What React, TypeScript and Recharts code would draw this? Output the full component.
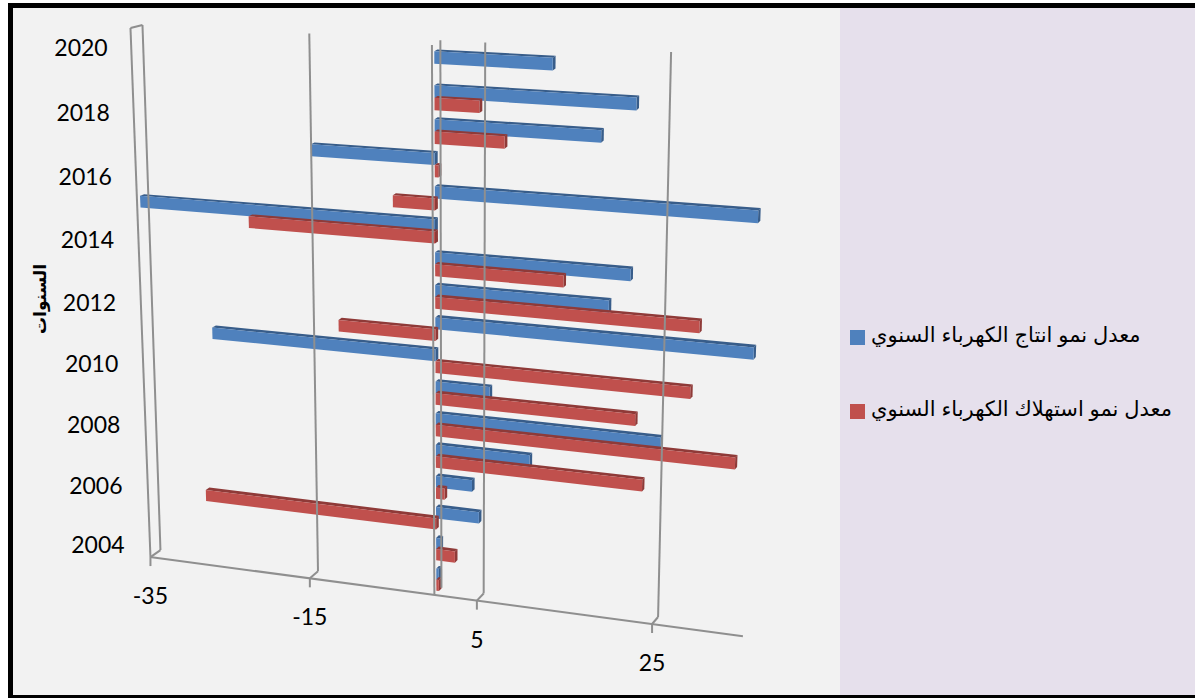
import React from 'react';
import { BarChart, Bar, XAxis, YAxis, Legend, ReferenceLine } from 'recharts';

const W = 1195;
const H = 698;

const years = [2004, 2005, 2006, 2007, 2008, 2009, 2010, 2011, 2012, 2013, 2014, 2015, 2016, 2017, 2018, 2019, 2020];
const productionGrowth = [0.3, 0.5, 5, 4.2, 10.8, 25.3, 6.2, -26.6, 35, 19.4, 21.7, -35, 35, -14.2, 18.3, 22, 13];
const consumptionGrowth = [0.3, 2.2, -28, 1, 23.4, 33.4, 22.5, 28.4, -11.3, 29.2, 14.4, -21.8, -4.8, 0.4, 7.8, 5, null];
const valueTicks = [-35, -15, 5, 25];

const PRODUCTION_NAME = 'معدل نمو انتاج الكهرباء السنوي';
const CONSUMPTION_NAME = 'معدل نمو استهلاك الكهرباء السنوي';
const AXIS_TITLE = 'السنوات';

const BLUE = { face: '#4f81bd', dark: '#385d8a' };
const RED = { face: '#c0504d', dark: '#8f3a38' };
const GRID = '#8f8f8f';

type Pt = [number, number];

// unit square -> quad (Heckbert)
function makeHomography(p0: Pt, p1: Pt, p2: Pt, p3: Pt) {
  const dx1 = p1[0] - p2[0], dx2 = p3[0] - p2[0], sx = p0[0] - p1[0] + p2[0] - p3[0];
  const dy1 = p1[1] - p2[1], dy2 = p3[1] - p2[1], sy = p0[1] - p1[1] + p2[1] - p3[1];
  const den = dx1 * dy2 - dx2 * dy1;
  const g = (sx * dy2 - dx2 * sy) / den;
  const h = (dx1 * sy - sx * dy1) / den;
  const a = p1[0] - p0[0] + g * p1[0], b = p3[0] - p0[0] + h * p3[0], c = p0[0];
  const d = p1[1] - p0[1] + g * p1[1], e = p3[1] - p0[1] + h * p3[1], f = p0[1];
  return (u: number, v: number): Pt => {
    const w = g * u + h * v + 1;
    return [(a * u + b * v + c) / w, (d * u + e * v + f) / w];
  };
}

// corners are at -35 and 25 on the value axis
const backPlane = makeHomography([142, 25], [671, 52], [658, 617], [160, 550]);
const frontPlane = makeHomography([130, 28], [664, 58], [652, 624], [150, 557]);

// chart pixel -> picture pixel; depth 0 is the back wall, 1 the front edge
function warp(x: number, y: number, depth: number): Pt {
  const u = (x / W) * (70 / 60);
  const v = y / H;
  const b = backPlane(u, v);
  const f = frontPlane(u, v);
  return [b[0] + (f[0] - b[0]) * depth, b[1] + (f[1] - b[1]) * depth];
}

const poly = (pts: Pt[]) => pts.map((p) => `${p[0].toFixed(1)},${p[1].toFixed(1)}`).join(' ');
const seg = (a: Pt, b: Pt) => ({ x1: a[0], y1: a[1], x2: b[0], y2: b[1] });

const BAR_FRONT = 0.72;
const BAR_BACK = 0.35;
const BAR_DROP = 3;

const makeBox = (col: { face: string; dark: string }) => (props: any) => {
  const { x, y, width, height } = props;
  if (width == null || height == null) return null;
  const x0 = Math.min(x, x + width);
  const x1 = Math.max(x, x + width);
  const y0 = y + BAR_DROP;
  const y1 = y + height + BAR_DROP;
  const topFace = [warp(x0, y0, BAR_FRONT), warp(x1, y0, BAR_FRONT), warp(x1, y0, BAR_BACK), warp(x0, y0, BAR_BACK)];
  const endFace = [warp(x1, y0, BAR_FRONT), warp(x1, y1, BAR_FRONT), warp(x1, y1, BAR_BACK), warp(x1, y0, BAR_BACK)];
  const face = [warp(x0, y0, BAR_FRONT), warp(x1, y0, BAR_FRONT), warp(x1, y1, BAR_FRONT), warp(x0, y1, BAR_FRONT)];
  return (
    <g>
      <polygon points={poly(topFace)} fill={col.dark} />
      <polygon points={poly(endFace)} fill={col.dark} />
      <polygon points={poly(face)} fill={col.face} />
    </g>
  );
};

const lineStyle = { stroke: GRID, strokeWidth: 2, fill: 'none' };

function ValueTick(props: any) {
  const { x, payload } = props;
  const corner = warp(x, H, 1);
  const isWall = payload.value === -35;
  return (
    <g>
      <line {...seg(warp(x, 0, 0), warp(x, H, 0))} {...lineStyle} />
      <line {...seg(warp(x, H, 0), corner)} {...lineStyle} />
      <line x1={corner[0]} y1={corner[1]} x2={corner[0]} y2={corner[1] + 9} {...lineStyle} />
      {isWall && (
        <g>
          <line {...seg(warp(x, 0, 0), warp(x, 0, 1))} {...lineStyle} />
          <line {...seg(warp(x, 0, 1), corner)} {...lineStyle} />
        </g>
      )}
      <text x={corner[0]} y={corner[1] + 38} textAnchor="middle" dominantBaseline="central" fontSize={23} fontFamily="Lato" fill="#000">
        {payload.value}
      </text>
    </g>
  );
}

function YearTick(props: any) {
  const { y, payload } = props;
  const t = (y - H / 34) / (H - H / 17);
  // labels bow slightly with the perspective
  return (
    <text x={81 + 17 * t} y={47 + 498 * t + 24 * t * (1 - t)} textAnchor="middle" dominantBaseline="central" fontSize={23} fontFamily="Lato" fill="#000">
      {payload.value}
    </text>
  );
}

// category axis sits at zero, plus the floor edge
function ZeroAxis(props: any) {
  const x = props.x1 ?? props.x;
  return (
    <g>
      <line {...seg(warp(x, 0, 0), warp(x, H, 0))} {...lineStyle} />
      <line {...seg(warp(x, 0, 1), warp(x, H, 1))} {...lineStyle} />
      <line {...seg(warp(0, H, 1), warp(W, H, 1))} {...lineStyle} />
    </g>
  );
}

function AxisTitle() {
  return (
    <text x={40} y={299} transform="rotate(-90 40 299)" textAnchor="middle" dominantBaseline="central" fontSize={17} fontWeight="bold" fontFamily="'Liberation Sans', 'DejaVu Sans'" direction="rtl" fill="#000">
      {AXIS_TITLE}
    </text>
  );
}

function LegendBox({ payload }: any) {
  const items = [...(payload || [])].sort((a: any) => (a.dataKey === 'production' ? -1 : 1));
  return (
    <div style={{ position: 'relative', width: 345, height: 100 }}>
      {items.map((item: any, i: number) => (
        <div key={item.value} style={{ position: 'absolute', left: 0, top: i * 74, display: 'flex', alignItems: 'center', height: 16 }}>
          <span style={{ width: 15, height: 15, background: item.color, display: 'inline-block', marginRight: 6 }} />
          <span dir="rtl" style={{ fontFamily: "'Liberation Sans', 'DejaVu Sans', 'Noto Sans'", fontSize: 21, color: '#000', whiteSpace: 'nowrap', position: 'relative', top: -2 }}>
            {item.value}
          </span>
        </div>
      ))}
    </div>
  );
}

const data = years.map((year, i) => ({
  year,
  production: productionGrowth[i],
  consumption: consumptionGrowth[i],
}));

export default function App() {
  return (
    <div style={{ position: 'fixed', left: 0, top: 0, width: W, height: H, background: '#fff', overflow: 'hidden' }}>
      <div style={{ position: 'absolute', left: 8, top: 3, width: W - 8, height: H - 3, background: '#000' }} />
      <div style={{ position: 'absolute', left: 13, top: 8, width: 827, height: 687, background: '#f2f2f2' }} />
      <div style={{ position: 'absolute', left: 840, top: 8, width: W - 840, height: 687, background: '#e6e0ec' }} />
      <div style={{ position: 'absolute', left: 0, top: 0 }}>
        <BarChart
          width={W}
          height={H}
          data={data}
          layout="vertical"
          margin={{ top: 0, right: 0, bottom: 0, left: 0 }}
          barSize={15}
          barGap={0}
          style={{ background: 'transparent' }}
        >
          <XAxis type="number" domain={[-35, 35]} ticks={valueTicks} interval={0} height={1} axisLine={false} tickLine={false} tick={<ValueTick />} />
          <YAxis type="category" dataKey="year" reversed interval={1} width={1} axisLine={false} tickLine={false} tick={<YearTick />} label={{ content: <AxisTitle /> }} />
          <ReferenceLine x={0} shape={<ZeroAxis />} />
          <Legend
            layout="vertical"
            align="center"
            verticalAlign="middle"
            content={<LegendBox />}
            wrapperStyle={{ left: 850, top: 329, width: 345 }}
          />
          <Bar dataKey="production" name={PRODUCTION_NAME} fill={BLUE.face} shape={makeBox(BLUE)} isAnimationActive={false} />
          <Bar dataKey="consumption" name={CONSUMPTION_NAME} fill={RED.face} shape={makeBox(RED)} isAnimationActive={false} />
        </BarChart>
      </div>
    </div>
  );
}
